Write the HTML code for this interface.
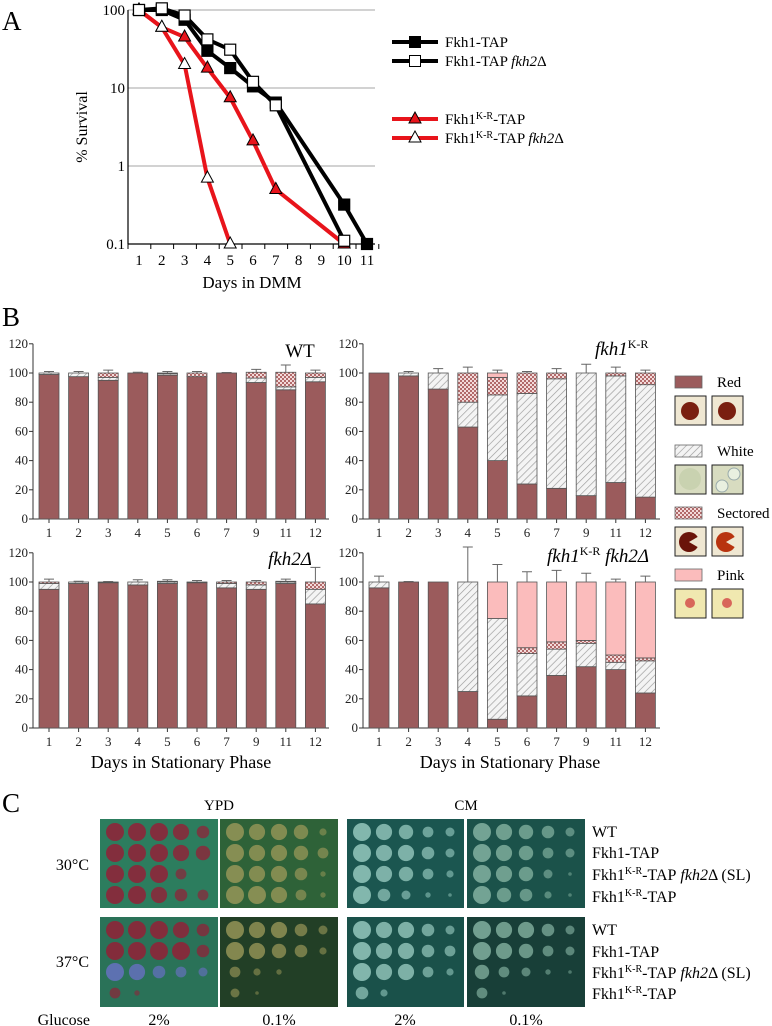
<!DOCTYPE html>
<html><head><meta charset="utf-8"><style>
html,body{margin:0;padding:0;background:#fff;}
svg{display:block;font-family:"Liberation Serif",serif;}
</style></head><body>
<svg id="fig" width="772" height="1026" viewBox="0 0 772 1026" xmlns="http://www.w3.org/2000/svg">
<defs>
<pattern id="hatch" width="5" height="5" patternUnits="userSpaceOnUse" patternTransform="rotate(45)">
<rect width="5" height="5" fill="#f4f4f4"/><line x1="0" y1="0" x2="0" y2="5" stroke="#999" stroke-width="1.3"/></pattern>
<pattern id="check" width="4" height="4" patternUnits="userSpaceOnUse">
<rect width="4" height="4" fill="#f3dada"/><rect width="2" height="2" fill="#b26a6a"/><rect x="2" y="2" width="2" height="2" fill="#b26a6a"/></pattern>
</defs>
<g id="panelA"></g>
<g id="panelB"></g>
<g id="panelC"></g>
</svg>
<script>
// ---------- Panel A data ----------
const aDays1 = [1,2,3,4,5,6,7,10,11];
const aFkh1 = [100,100,75,30,18,10.5,6.5,0.32,0.1];
const aDays2 = [1,2,3,4,5,6,7,10];
const aFkh1fkh2 = [100,105,85,42,31,12,6,0.11];
const aDays3 = [1,2,3,4,5,6,7,10];
const aKR = [100,60,45,18,7.5,2.1,0.5,0.1];
const aDays4 = [1,2,3,4,5];
const aKRfkh2 = [100,60,20,0.7,0.1];
const aYTicks = ["100","10","1","0.1"];
const aXTicks = ["1","2","3","4","5","6","7","8","9","10","11"];

// ---------- Panel B data (red, white, sectored, pink) ----------
const bDays = ["1","2","3","4","5","6","7","9","11","12"];
const wtRed = [99,97.5,95,100,98.5,97.5,100,93.5,88.5,94];
const wtWhite = [1,2.5,2,0,1,0,0,3,2,3];
const wtSect = [0,0,3,0,0.5,2.5,0,4,10,3];
const wtPink = [0,0,0,0,0,0,0,0,0,0];
const wtErr = [1,1,2,0.5,1,1,0.3,2,5,2];
const krRed = [100,98,89,63,40,24,21,16,25,15];
const krWhite = [0,2,11,17,45,62,75,84,73,77];
const krSect = [0,0,0,20,12,14,4,0,2,8];
const krPink = [0,0,0,0,3,0,0,0,0,0];
const krErr = [0,1,3,4,2,1,3,6,4,2];
const f2Red = [95,99,99.5,98,99,99.5,96,95,99,85];
const f2White = [4,1,0.5,2,1,0.5,3,3,1,10];
const f2Sect = [1,0,0,0,0.5,0,1,2,0.5,5];
const f2Pink = [0,0,0,0,0,0,0,0,0,0];
const f2Err = [2,0.5,0.3,1.5,1,1,1,1,1.5,10];
const dRed = [96,100,100,25,6,22,36,42,40,24];
const dWhite = [4,0,0,75,69,29,18,16,5,22];
const dSect = [0,0,0,0,0,4,5,2,5,2];
const dPink = [0,0,0,0,25,45,41,40,50,52];
const dErr = [4,0.3,0,24,12,7,8,6,2,4];
const bYTicks = [0,20,40,60,80,100,120];

const NS="http://www.w3.org/2000/svg";
function mk(parent,tag,attrs,text){const e=document.createElementNS(NS,tag);for(const k in attrs)e.setAttribute(k,attrs[k]);if(text!==undefined)e.textContent=text;parent.appendChild(e);return e;}

// ---------- Panel A ----------
(function(){
const g=document.getElementById('panelA');
const L=128,R=375,T=10,B=244;
const xA=d=>139+(d-1)*22.8;
const yA=v=>T+(2-Math.log10(v))*78;
let t=mk(g,'text',{x:2,y:30,'font-size':27},'A');

aYTicks.forEach(s=>{const v=parseFloat(s);const y=yA(v);
 const gl=mk(g,'line',{x1:L,x2:R,y1:y,y2:y,stroke:'#a6a6a6','stroke-width':1});
 const tl=mk(g,'text',{x:L-3,y:y+5,'font-size':15,'text-anchor':'end'},s);});
const ax=mk(g,'line',{x1:L,x2:L,y1:T,y2:B,stroke:'#000','stroke-width':1.2});
const xx=mk(g,'line',{x1:L,x2:R,y1:B,y2:B,stroke:'#000','stroke-width':1.2});
for(let i=0;i<=11;i++){const x=L+i*22.8;mk(g,'line',{x1:x,x2:x,y1:B,y2:B+5,stroke:'#000'});}
aXTicks.forEach(s=>{const tl=mk(g,'text',{x:xA(+s),y:B+21,'font-size':15,'text-anchor':'middle'},s);});
let yl=mk(g,'text',{x:0,y:0,'font-size':16,'text-anchor':'middle',transform:'translate(87,127) rotate(-90)'},'% Survival');

let xl=mk(g,'text',{x:252,y:288,'font-size':17,'text-anchor':'middle'},'Days in DMM');

function series(days,vals,color,marker,fill,name){
 const sg=mk(g,'g',{});
 const pts=days.map((d,i)=>xA(d)+','+yA(vals[i])).join(' ');
 mk(sg,'polyline',{points:pts,fill:'none',stroke:color,'stroke-width':4,'stroke-linejoin':'round'});
 days.forEach((d,i)=>{const x=xA(d),y=yA(vals[i]);
  let m;
  if(marker==='sq')m=mk(sg,'rect',{x:x-5.5,y:y-5.5,width:11,height:11,fill:fill,stroke:'#000','stroke-width':1.2});
  else m=mk(sg,'polygon',{points:`${x},${y-7} ${x-6},${y+4} ${x+6},${y+4}`,fill:fill,stroke:'#000','stroke-width':1});
  });
}
series(aDays3,aKR,'#e8141b','tri','#e8141b','series-fkh1kr-tap');
series(aDays4,aKRfkh2,'#e8141b','tri','#fff','series-fkh1kr-tap-fkh2');
series(aDays1,aFkh1,'#000','sq','#000','series-fkh1-tap');
series(aDays2,aFkh1fkh2,'#000','sq','#fff','series-fkh1-tap-fkh2');
const leg=[{y:42,c:'#000',m:'sq',f:'#000',t:'Fkh1-TAP',s:'',i:''},{y:61,c:'#000',m:'sq',f:'#fff',t:'Fkh1-TAP ',s:'',i:'fkh2',d:'Δ'},
{y:119,c:'#e8141b',m:'tri',f:'#e8141b',t:'Fkh1',s:'K-R',r:'-TAP'},{y:138,c:'#e8141b',m:'tri',f:'#fff',t:'Fkh1',s:'K-R',r:'-TAP ',i:'fkh2',d:'Δ'}];
leg.forEach(o=>{const lg=mk(g,'g',{});
 mk(lg,'line',{x1:392,x2:438,y1:o.y,y2:o.y,stroke:o.c,'stroke-width':4});
 if(o.m==='sq')mk(lg,'rect',{x:409.5,y:o.y-5.5,width:11,height:11,fill:o.f,stroke:'#000'});
 else mk(lg,'polygon',{points:`415,${o.y-7} 409,${o.y+4} 421,${o.y+4}`,fill:o.f,stroke:'#000'});
 const tx=mk(lg,'text',{x:445,y:o.y+5,'font-size':15});
 mk(tx,'tspan',{},o.t);
 if(o.s){mk(tx,'tspan',{'font-size':10,dy:-5},o.s);mk(tx,'tspan',{dy:5},o.r);}
 if(o.i){mk(tx,'tspan',{'font-style':'italic'},o.i);mk(tx,'tspan',{},o.d);}
});
})();

// ---------- Panel B ----------
(function(){
const g=document.getElementById('panelB');
let t=mk(g,'text',{x:2,y:326,'font-size':27},'B');

const U=1.46;
function plot(ax0,ax1,x1,step,base,red,white,sect,pink,err,name){
 const pg=mk(g,'g',{});
 const yB=v=>base-v*U;
 mk(pg,'line',{x1:ax0,x2:ax0,y1:yB(120),y2:base,stroke:'#333','stroke-width':1});
 mk(pg,'line',{x1:ax0,x2:ax1,y1:base,y2:base,stroke:'#333','stroke-width':1});
 bYTicks.forEach(v=>{mk(pg,'line',{x1:ax0-4,x2:ax0,y1:yB(v),y2:yB(v),stroke:'#333'});
  const tl=mk(pg,'text',{x:ax0-5,y:yB(v)+4,'font-size':13,'text-anchor':'end',fill:'#222'},String(v));
  });
 bDays.forEach((d,i)=>{const cx=x1+i*step;
  mk(pg,'line',{x1:cx,x2:cx,y1:base,y2:base+4,stroke:'#333'});
  const tl=mk(pg,'text',{x:cx,y:base+18,'font-size':13,'text-anchor':'middle',fill:'#222'},d);
  
  let acc=0;
  const segs=[[red[i],'#9b5b5c','bar-red'],[white[i],'url(#hatch)','bar-white'],[sect[i],'url(#check)','bar-sectored'],[pink[i],'#fbbcbc','bar-pink']];
  segs.forEach(s=>{if(s[0]<=0)return;const y0=yB(acc+s[0]),h=s[0]*U;
   const r=mk(pg,'rect',{x:cx-10,y:y0,width:20,height:h,fill:s[1],stroke:'#555','stroke-width':0.8});
   acc+=s[0];});
  if(err[i]>0){const yt=yB(acc),ye=yB(acc+err[i]);
   const e=mk(pg,'path',{d:`M${cx},${yt}V${ye}M${cx-5},${ye}H${cx+5}`,stroke:'#666','stroke-width':1,fill:'none'});
   }
 });
 return pg;
}
const p1=plot(33,329,49,29.6,519,wtRed,wtWhite,wtSect,wtPink,wtErr,'plot-wt');
let tt=mk(p1,'text',{x:300,y:357,'font-size':19,'text-anchor':'middle'},'WT');
const p2=plot(363,660,379,29.6,519,krRed,krWhite,krSect,krPink,krErr,'plot-fkh1kr');
tt=mk(p2,'text',{x:595,y:355,'font-size':19,'font-style':'italic'});mk(tt,'tspan',{},'fkh1');mk(tt,'tspan',{'font-size':12,dy:-7,'font-style':'normal'},'K-R');

const p3=plot(33,329,49,29.6,728,f2Red,f2White,f2Sect,f2Pink,f2Err,'plot-fkh2');
tt=mk(p3,'text',{x:290,y:565,'font-size':19,'font-style':'italic','text-anchor':'middle'},'fkh2Δ');
const p4=plot(363,660,379,29.6,728,dRed,dWhite,dSect,dPink,dErr,'plot-fkh1kr-fkh2');
tt=mk(p4,'text',{x:547,y:562,'font-size':19,'font-style':'italic'});mk(tt,'tspan',{},'fkh1');mk(tt,'tspan',{'font-size':12,dy:-7,'font-style':'normal'},'K-R');mk(tt,'tspan',{dy:7},' fkh2Δ');

[[181,'x-axis-title-left'],[510,'x-axis-title-right']].forEach(a=>{const x=mk(g,'text',{x:a[0],y:768,'font-size':18,'text-anchor':'middle'},'Days in Stationary Phase');});
const lg=[{y:376,f:'#9b5b5c',t:'Red'},{y:445,f:'url(#hatch)',t:'White'},{y:507,f:'url(#check)',t:'Sectored'},{y:569,f:'#fbbcbc',t:'Pink'}];
lg.forEach(o=>{const e=mk(g,'g',{});
 mk(e,'rect',{x:675,y:o.y,width:27,height:12,fill:o.f,stroke:'#666','stroke-width':0.8});
 mk(e,'text',{x:717,y:o.y+11,'font-size':15},o.t);
 [675,712].forEach((ix,k)=>{const iy=o.y+20;
  const bg=o.t==='Pink'?'#f0e8b0':(o.t==='White'?'#d8dcc0':'#efe7d2');
  mk(e,'rect',{x:ix,y:iy,width:31,height:29,fill:bg,stroke:'#222','stroke-width':1});
  if(o.t==='Red'){mk(e,'circle',{cx:ix+15,cy:iy+15,r:9,fill:'#7a1f10'});}
  else if(o.t==='White'){ if(k===0)mk(e,'circle',{cx:ix+15,cy:iy+14,r:11,fill:'#c9d2b0'});else{mk(e,'circle',{cx:ix+22,cy:iy+9,r:6,fill:'#e9f0e0',stroke:'#9aa'});mk(e,'circle',{cx:ix+10,cy:iy+21,r:6,fill:'#e9f0e0',stroke:'#9aa'});}}
  else if(o.t==='Sectored'){mk(e,'circle',{cx:ix+14,cy:iy+15,r:10,fill:k?'#b8330f':'#6a1409'});mk(e,'path',{d:`M${ix+14},${iy+15}L${ix+26},${iy+8}L${ix+26},${iy+22}Z`,fill:bg});}
  else {mk(e,'circle',{cx:ix+15,cy:iy+14,r:5,fill:'#d8665a'});}
 });
});
})();

// ---------- Panel C ----------
(function(){
const g=document.getElementById('panelC');
let t=mk(g,'text',{x:2,y:812,'font-size':27},'C');
[[219,'YPD'],[466,'CM']].forEach(a=>{const x=mk(g,'text',{x:a[0],y:810,'font-size':15,'text-anchor':'middle'},a[1]);});
[[865,'30°C'],[962,'37°C']].forEach(a=>{const x=mk(g,'text',{x:89,y:a[0]+5,'font-size':16,'text-anchor':'end'},a[1]);});
let gl=mk(g,'text',{x:90,y:1025,'font-size':16,'text-anchor':'end'},'Glucose');
[[159,'2%'],[279,'0.1%'],[405,'2%'],[526,'0.1%']].forEach(a=>{const x=mk(g,'text',{x:a[0],y:1025,'font-size':16,'text-anchor':'middle'},a[1]);});
const plates=[
 {x:100,w:118,bg:['#2c7d5e','#2a7258'],col:'#9a1a35'},{x:220,w:118,bg:['#2e6238','#223f26'],col:'#9c9a5a'},
 {x:347,w:117,bg:['#1b5650','#1a514a'],col:'#9ccfc4'},{x:467,w:118,bg:['#1b524a','#183f38'],col:'#8ab8a6'}];
const rowsY=[[819,908],[917,1007]];
const grow={
 '0-0':[[1,1,1,.9,.7],[1,1,1,.9,.8],[1,1,1,.6,0],[1,1,.9,.7,.6]],
 '0-1':[[1,1,1,.9,.7],[1,1,1,1,.7],[1,.9,.7,.6,.5],[.6,.3,0,0,0]],
 '1-0':[[1,.9,.9,.8,.4],[1,.9,.9,.8,.6],[1,.9,.9,.7,.3],[1,1,.9,.6,.3]],
 '1-1':[[1,.9,.9,.7,.5],[1,.9,.8,.7,.4],[.6,.4,.3,0,0],[.5,.2,0,0,0]],
 '2-0':[[1,.9,.8,.6,.5],[1,.9,.9,.7,.5],[1,.9,.8,.6,.4],[1,.7,.5,.3,.2]],
 '2-1':[[1,.9,.9,.7,.5],[1,.9,.9,.7,.6],[1,.9,.9,.6,.4],[.7,.4,0,0,0]],
 '3-0':[[1,.9,.8,.7,.5],[1,.9,.8,.6,.5],[1,.9,.8,.5,.2],[1,.8,.7,.4,.2]],
 '3-1':[[1,.9,.9,.7,.5],[1,.9,.8,.6,.5],[.8,.6,.5,.3,.2],[.6,.2,0,0,0]]};
plates.forEach((p,pi)=>{rowsY.forEach((ry,ri)=>{
 const pg=mk(g,'g',{});
 mk(pg,'rect',{x:p.x,y:ry[0],width:p.w,height:ry[1]-ry[0],fill:p.bg[ri]});
 const gr=grow[pi+'-'+ri];
 for(let r=0;r<4;r++)for(let c=0;c<5;c++){const s=gr[r][c];if(s<=0)continue;
  let col=p.col;
  if(pi===0&&ri===1&&r===2)col='#6a70c8';
  mk(pg,'circle',{cx:p.x+15+c*22,cy:ry[0]+13+r*21,r:9*s,fill:col,opacity:0.4+0.4*s});}
});});
[[832,853,875,897],[930,952,973,994]].forEach(ys=>{ys.forEach((y,i)=>{
 const tx=mk(g,'text',{x:592,y:y+5,'font-size':16});
 if(i===0)tx.textContent='WT';else if(i===1)tx.textContent='Fkh1-TAP';
 else{mk(tx,'tspan',{},'Fkh1');mk(tx,'tspan',{'font-size':10,dy:-6},'K-R');mk(tx,'tspan',{dy:6},'-TAP');
  if(i===2){mk(tx,'tspan',{'font-style':'italic'},' fkh2');mk(tx,'tspan',{},'Δ (SL)');}}
});});
})();
</script>
</body></html>
